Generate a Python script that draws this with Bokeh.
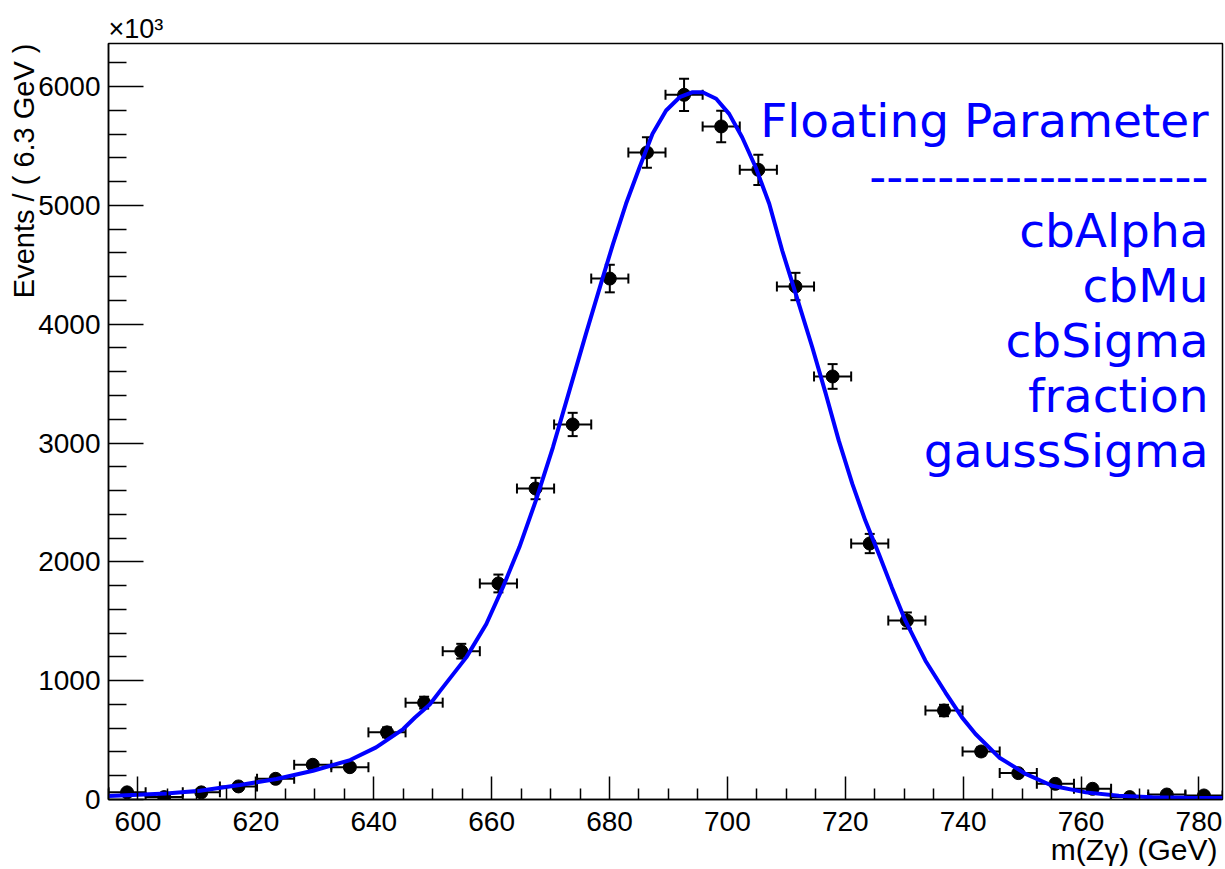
from math import pi
from bokeh.plotting import figure
from bokeh.models import Range1d, FixedTicker, Label, ColumnDataSource, Title
from bokeh.embed import file_html
from bokeh.resources import INLINE

# ---------------- data ----------------
bin_width = 6.3
bin_centers = [598.15, 604.45, 610.75, 617.05, 623.35, 629.65, 635.95, 642.25, 648.55, 654.85,
               661.15, 667.45, 673.75, 680.05, 686.35, 692.65, 698.95, 705.25, 711.55, 717.85,
               724.15, 730.45, 736.75, 743.05, 749.35, 755.65, 761.95, 768.25, 774.55, 780.85]
counts = [60, 20, 60, 110, 174, 292, 272, 565, 815, 1248,
          1818, 2617, 3156, 4384, 5445, 5930, 5664, 5299, 4317, 3560,
          2154, 1506, 749, 404, 222, 132, 90, 20, 42, 34]
count_errors = [14, 8, 14, 18, 23, 30, 29, 42, 50, 62,
                75, 90, 98, 116, 129, 135, 132, 127, 115, 104,
                81, 68, 48, 35, 26, 20, 17, 8, 11, 10]

curve_mass = [595.0, 600.0, 604.8, 610.5, 617.3, 623.5, 629.7, 636.0, 640.4, 645.0,
              647.0, 649.5, 651.2, 655.7, 659.1, 661.9, 664.7, 667.5, 670.4, 673.2,
              676.0, 678.6, 680.6, 682.8, 685.1, 687.3, 689.6, 691.9, 694.1, 695.8,
              698.1, 700.3, 702.5, 704.8, 707.1, 709.3, 711.6, 714.4, 716.7, 718.9,
              721.2, 723.4, 725.7, 727.9, 730.2, 733.6, 737.0, 739.8, 742.1, 746.1,
              750.6, 755.1, 760.8, 766.4, 772.1, 778.0, 784.0]
curve_events = [30, 40, 51, 74, 122, 172, 242, 332, 439, 593,
                690, 800, 910, 1196, 1477, 1785, 2122, 2515, 2964, 3441,
                3918, 4350, 4676, 5013, 5321, 5602, 5798, 5910, 5952, 5952,
                5897, 5770, 5573, 5321, 5013, 4620, 4255, 3806, 3413, 3020,
                2656, 2347, 2066, 1785, 1505, 1168, 900, 691, 551, 354,
                215, 116, 60, 32, 18, 14, 12]

x_major_ticks = [600, 620, 640, 660, 680, 700, 720, 740, 760, 780]
x_minor_ticks = [595, 605, 610, 615, 625, 630, 635, 645, 650, 655, 665, 670, 675,
                 685, 690, 695, 705, 710, 715, 725, 730, 735, 745, 750, 755,
                 765, 770, 775, 785]
y_major_ticks = [0, 1000, 2000, 3000, 4000, 5000, 6000]
y_minor_ticks = [200, 400, 600, 800, 1200, 1400, 1600, 1800, 2200, 2400, 2600, 2800,
                 3200, 3400, 3600, 3800, 4200, 4400, 4600, 4800, 5200, 5400, 5600,
                 5800, 6200]

x_title = "m(Z\u03b3) (GeV)"
y_title = "Events / ( 6.3 GeV )"
exponent_text = "\u00d710\u00b3"
param_lines = ["Floating Parameter", "-" * 20, "cbAlpha", "cbMu", "cbSigma",
               "fraction", "gaussSigma"]

# ---------------- figure ----------------
p = figure(width=1225, height=869,
           x_range=Range1d(595, 784), y_range=Range1d(0, 6362),
           output_backend="svg", toolbar_location=None,
           min_border_left=108, min_border_right=3,
           min_border_top=43, min_border_bottom=70)
p.background_fill_color = "white"
p.border_fill_color = "white"
p.grid.visible = False
p.outline_line_color = "black"
p.outline_line_width = 1.5

p.xaxis.ticker = FixedTicker(ticks=x_major_ticks, minor_ticks=x_minor_ticks)
p.yaxis.ticker = FixedTicker(ticks=y_major_ticks, minor_ticks=y_minor_ticks)
for ax in (p.xaxis[0], p.yaxis[0]):
    ax.axis_line_color = "black"
    ax.axis_line_width = 1.5
    ax.major_tick_line_color = "black"
    ax.major_tick_line_width = 1.5
    ax.minor_tick_line_color = "black"
    ax.minor_tick_line_width = 1.5
    ax.major_tick_out = 0
    ax.minor_tick_out = 0
    ax.major_label_text_font = "Liberation Sans"
    ax.major_label_text_font_size = "28px"
    ax.major_label_text_color = "black"
p.yaxis.major_label_standoff = 8
p.xaxis.major_label_standoff = 12
p.yaxis.major_tick_in = 35
p.yaxis.minor_tick_in = 18
p.xaxis.major_tick_in = 23
p.xaxis.minor_tick_in = 11

# exponent marker above the frame (figure title slot)
p.title.text = exponent_text
p.title.align = "left"
p.title.text_font = "Liberation Sans"
p.title.text_font_size = "27px"
p.title.text_font_style = "normal"
p.title.text_color = "black"
p.title.standoff = 0
p.title.offset = 0

# axis titles as side titles
p.add_layout(Title(text=x_title, align="right", text_font="Liberation Sans",
                   text_font_size="30px", text_font_style="normal",
                   text_color="black", standoff=-5, offset=5), "below")
p.add_layout(Title(text=y_title, align="right", text_font="Liberation Sans",
                   text_font_size="29px", text_font_style="normal",
                   text_color="black", standoff=-8, offset=0), "left")

# ---------------- data points with error bars ----------------
half = bin_width / 2
src = ColumnDataSource(dict(
    x=bin_centers, y=counts,
    xlo=[c - half for c in bin_centers], xhi=[c + half for c in bin_centers],
    ylo=[n - e for n, e in zip(counts, count_errors)],
    yhi=[n + e for n, e in zip(counts, count_errors)],
))
p.segment(x0="xlo", y0="y", x1="xhi", y1="y", source=src, line_color="black", line_width=2)
p.segment(x0="x", y0="ylo", x1="x", y1="yhi", source=src, line_color="black", line_width=2)
p.scatter(x="xlo", y="y", source=src, marker="dash", angle=pi / 2, size=10,
          line_color="black", line_width=2)
p.scatter(x="xhi", y="y", source=src, marker="dash", angle=pi / 2, size=10,
          line_color="black", line_width=2)
p.scatter(x="x", y="ylo", source=src, marker="dash", size=10, line_color="black", line_width=2)
p.scatter(x="x", y="yhi", source=src, marker="dash", size=10, line_color="black", line_width=2)
p.scatter(x="x", y="y", source=src, marker="circle", size=13,
          fill_color="black", line_color="black")

# ---------------- fit curve ----------------
p.line(curve_mass, curve_events, line_color="#0000ff", line_width=4)

# ---------------- parameter box (right aligned, inside frame) ----------------
base_y = 679
for i, line in enumerate(param_lines):
    p.add_layout(Label(text=line, x=1100, y=base_y - 55 * i, x_units="screen", y_units="screen",
                       text_font="DejaVu Sans", text_font_size="47px",
                       text_color="#0000ff", text_align="right",
                       text_baseline="alphabetic"))

open("out.html", "w").write(file_html(p, INLINE))
